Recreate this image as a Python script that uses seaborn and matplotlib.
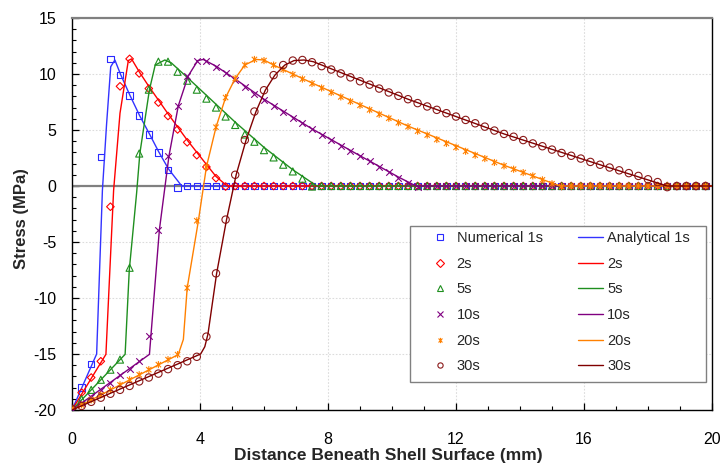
import matplotlib
matplotlib.use('Agg')
import matplotlib.pyplot as plt
import seaborn as sns
from matplotlib.path import Path
from matplotlib.lines import Line2D
from matplotlib.patches import Rectangle
from matplotlib.ticker import MultipleLocator

# ---------------- data ----------------
x_nodes = [0.0, 0.3, 0.6, 0.9, 1.2, 1.5, 1.8, 2.1, 2.4, 2.7,
           3.0, 3.3, 3.6, 3.9, 4.2, 4.5, 4.8, 5.1, 5.4, 5.7,
           6.0, 6.3, 6.6, 6.9, 7.2, 7.5, 7.8, 8.1, 8.4, 8.7,
           9.0, 9.3, 9.6, 9.9, 10.2, 10.5, 10.8, 11.1, 11.4, 11.7,
           12.0, 12.3, 12.6, 12.9, 13.2, 13.5, 13.8, 14.1, 14.4, 14.7,
           15.0, 15.3, 15.6, 15.9, 16.2, 16.5, 16.8, 17.1, 17.4, 17.7,
           18.0, 18.3, 18.6, 18.9, 19.2, 19.5, 19.8]

num_1s = [-19.9, -18.0, -15.9, 2.6, 11.35, 9.9, 8.1, 6.3, 4.6, 3.0,
          1.45, -0.15, 0, 0, 0, 0, 0, 0, 0, 0,
          0, 0, 0, 0, 0, 0, 0, 0, 0, 0,
          0, 0, 0, 0, 0, 0, 0, 0, 0, 0,
          0, 0, 0, 0, 0, 0, 0, 0, 0, 0,
          0, 0, 0, 0, 0, 0, 0, 0, 0, 0,
          0, 0, 0, 0, 0, 0, 0]
num_2s = [-19.9, -18.45, -17.1, -15.65, -1.85, 8.9, 11.35, 10.05, 8.7, 7.45,
          6.25, 5.05, 3.9, 2.75, 1.7, 0.7, -0.05, 0, 0, 0,
          0, 0, 0, 0, 0, 0, 0, 0, 0, 0,
          0, 0, 0, 0, 0, 0, 0, 0, 0, 0,
          0, 0, 0, 0, 0, 0, 0, 0, 0, 0,
          0, 0, 0, 0, 0, 0, 0, 0, 0, 0,
          0, 0, 0, 0, 0, 0, 0]
num_5s = [-19.9, -19.05, -18.2, -17.3, -16.4, -15.5, -7.3, 2.9, 8.6, 11.1,
          11.1, 10.2, 9.4, 8.6, 7.8, 7.0, 6.2, 5.45, 4.6, 3.95,
          3.2, 2.55, 1.9, 1.3, 0.65, -0.05, 0, 0, 0, 0,
          0, 0, 0, 0, 0, 0, 0, 0, 0, 0,
          0, 0, 0, 0, 0, 0, 0, 0, 0, 0,
          0, 0, 0, 0, 0, 0, 0, 0, 0, 0,
          0, 0, 0, 0, 0, 0, 0]
num_10s = [-19.9, -19.4, -18.8, -18.2, -17.55, -16.9, -16.3, -15.65, -13.4, -3.95,
           2.7, 7.15, 9.8, 11.2, 11.2, 10.65, 10.05, 9.5, 8.85, 8.2,
           7.7, 7.15, 6.6, 6.1, 5.6, 5.05, 4.55, 4.1, 3.6, 3.15,
           2.65, 2.2, 1.7, 1.25, 0.75, 0.3, -0.05, 0, 0, 0,
           0, 0, 0, 0, 0, 0, 0, 0, 0, 0,
           0, 0, 0, 0, 0, 0, 0, 0, 0, 0,
           0, 0, 0, 0, 0, 0, 0]
num_20s = [-19.9, -19.55, -19.1, -18.65, -18.2, -17.75, -17.3, -16.85, -16.4, -15.95,
           -15.5, -15.05, -9.1, -3.1, 1.7, 5.25, 7.9, 9.6, 10.8, 11.3,
           11.2, 10.8, 10.4, 9.95, 9.55, 9.15, 8.75, 8.35, 7.95, 7.55,
           7.2, 6.8, 6.4, 6.05, 5.65, 5.3, 4.9, 4.55, 4.15, 3.8,
           3.45, 3.1, 2.75, 2.45, 2.1, 1.8, 1.5, 1.2, 0.9, 0.55,
           0.2, -0.05, 0, 0, 0, 0, 0, 0, 0, 0,
           0, 0, 0, 0, 0, 0, 0]
num_30s = [-19.9, -19.64, -19.27, -18.9, -18.55, -18.2, -17.85, -17.45, -17.1, -16.75,
           -16.35, -16.0, -15.65, -15.25, -13.45, -7.8, -3.0, 1.0, 4.1, 6.65,
           8.55, 9.9, 10.8, 11.2, 11.25, 11.05, 10.7, 10.4, 10.05, 9.7,
           9.35, 9.05, 8.7, 8.35, 8.05, 7.75, 7.4, 7.1, 6.8, 6.5,
           6.2, 5.9, 5.6, 5.3, 4.95, 4.65, 4.4, 4.1, 3.8, 3.55,
           3.25, 2.95, 2.7, 2.45, 2.15, 1.9, 1.65, 1.4, 1.15, 0.9,
           0.6, 0.35, -0.1, 0, 0, 0, 0]

ana_1s_x = [0, 0.77, 0.95, 1.08, 1.21, 1.34, 1.52, 1.81, 2.11, 2.42, 2.71, 3.02, 3.43, 20]
ana_1s_y = [-20, -15.0, -0.4, 5.5, 10.65, 11.25, 9.95, 8.1, 6.3, 4.65, 3.05, 1.5, 0, 0]
ana_2s_x = [0, 1.06, 1.30, 1.50, 1.76, 1.86, 2.1, 2.4, 3.0, 3.6, 3.93, 4.5, 4.85, 20]
ana_2s_y = [-20, -15.03, -0.4, 6.5, 11.2, 11.35, 10.2, 8.9, 6.45, 4.1, 2.9, 0.85, 0, 0]
ana_5s_x = [0, 1.66, 1.79, 2.02, 2.12, 2.42, 2.6, 2.9, 3.1, 3.6, 4.2, 5.1, 6.0, 6.9, 7.65, 20]
ana_5s_y = [-20, -15.03, -7.5, -0.6, 2.9, 8.6, 10.8, 11.25, 11.0, 9.7, 8.1, 5.7, 3.45, 1.45, 0, 0]
ana_10s_x = [0, 2.42, 2.73, 3.03, 3.32, 3.63, 3.93, 4.1, 4.5, 5.1, 6.0, 7.5, 9.0, 10.2, 10.75, 20]
ana_10s_y = [-20, -15.03, -3.93, 2.68, 7.14, 9.82, 11.2, 11.3, 10.7, 9.55, 7.75, 5.1, 2.7, 0.8, 0, 0]
ana_20s_x = [0, 3.32, 3.48, 3.6, 3.95, 4.2, 4.5, 4.8, 5.1, 5.4, 5.75, 6.0, 6.3, 7.5, 10.5, 13.5, 15.25, 20]
ana_20s_y = [-20, -15.05, -13.7, -9.1, -3.1, 1.7, 5.25, 7.9, 9.6, 10.8, 11.3, 11.25, 10.8, 9.2, 5.35, 1.85, 0, 0]
ana_30s_x = [0, 4.02, 4.15, 4.25, 4.52, 4.83, 5.13, 5.44, 5.75, 6.04, 6.34, 6.65, 6.94, 7.25, 7.54,
             10.5, 13.5, 16.5, 18.6, 20]
ana_30s_y = [-20, -15.0, -14.35, -13.2, -7.8, -3.0, 1.0, 4.1, 6.65, 8.55, 9.9, 10.8, 11.2, 11.25, 11.1,
             7.75, 4.65, 1.9, 0, 0]

times = ['1s', '2s', '5s', '10s', '20s', '30s']
num_labels = ['Numerical 1s', '2s', '5s', '10s', '20s', '30s']
ana_labels = ['Analytical 1s', '2s', '5s', '10s', '20s', '30s']
x_ticks = [0, 4, 8, 12, 16, 20]
y_ticks = [-20, -15, -10, -5, 0, 5, 10, 15]

# ---------------- styling ----------------
sns.set_theme(style='white')
plt.rcParams['font.family'] = ['Liberation Sans', 'DejaVu Sans']
plt.rcParams['axes.unicode_minus'] = False

colors_num = ['#2a2aff', '#ff0000', '#1f8f1f', '#800080', '#ff8000', '#8b1a1a']
colors_ana = ['#3333ff', '#ff0000', '#1f8f1f', '#800080', '#ff8000', '#800000']

star = Path([(0, -1), (0, 1), (-0.75, -0.75), (0.75, 0.75), (-0.75, 0.75), (0.75, -0.75)],
            [Path.MOVETO, Path.LINETO, Path.MOVETO, Path.LINETO, Path.MOVETO, Path.LINETO])
markers = ['s', 'D', '^', 'x', star, 'o']
sizes = [22, 15, 26, 22, 26, 28]
filled = [True, True, True, False, True, True]

nums = [num_1s, num_2s, num_5s, num_10s, num_20s, num_30s]
anas = [(ana_1s_x, ana_1s_y), (ana_2s_x, ana_2s_y), (ana_5s_x, ana_5s_y),
        (ana_10s_x, ana_10s_y), (ana_20s_x, ana_20s_y), (ana_30s_x, ana_30s_y)]

fig = plt.figure(figsize=(7.21, 4.73), dpi=100)
ax = fig.add_axes([72 / 721, 1 - 410 / 473, 640 / 721, 392 / 473])

ax.axhline(0, color='#808080', lw=1.6, zorder=1.5)

z = 2.0
for i in range(6):
    c = colors_num[i]
    if filled[i]:
        sns.scatterplot(x=x_nodes, y=nums[i], marker=markers[i], s=sizes[i], color=c,
                        edgecolor=c, linewidth=0.8, ax=ax, legend=False, zorder=z)
        coll = ax.collections[-1]
        coll.set_facecolor('none')
        coll.set_edgecolor(c)
    else:
        sns.scatterplot(x=x_nodes, y=nums[i], marker=markers[i], s=sizes[i], color=c,
                        linewidth=0.8, ax=ax, legend=False, zorder=z)
    z += 0.1
    ax_x, ax_y = anas[i]
    sns.lineplot(x=ax_x, y=ax_y, color=colors_ana[i], lw=1.0, sort=False, estimator=None,
                 ax=ax, legend=False, zorder=z)
    z += 0.1

ax.set_xlim(0, 20)
ax.set_ylim(-20, 15)
ax.set_xticks(x_ticks)
ax.set_yticks(y_ticks)
ax.set_xticklabels([str(t) for t in x_ticks])
ax.set_yticklabels([str(t) for t in y_ticks])
ax.xaxis.set_minor_locator(MultipleLocator(1))
ax.yaxis.set_minor_locator(MultipleLocator(1))
ax.tick_params(axis='x', which='major', direction='in', length=5, width=0.9, colors='black',
               labelsize=11.5, pad=16, bottom=True)
ax.tick_params(axis='y', which='major', direction='in', length=5, width=0.9, colors='black',
               labelsize=11.5, pad=11, left=True)
ax.tick_params(axis='both', which='minor', direction='in', length=3, width=0.8, colors='black',
               bottom=True, left=True)
ax.grid(True, which='major', color='#dcdcdc', linestyle=(0, (1.5, 1.5)), lw=0.8)
ax.set_axisbelow(True)

for side in ['left', 'bottom', 'right']:
    ax.spines[side].set_color('black')
    ax.spines[side].set_linewidth(1.0)
ax.spines['top'].set_color('#808080')
ax.spines['top'].set_linewidth(1.6)

ax.set_xlabel('')
ax.set_ylabel('')
fig.text(388 / 721, 1 - 455 / 473, 'Distance Beneath Shell Surface (mm)', ha='center', va='center',
         fontsize=12.5, fontweight='bold')
fig.text(22 / 721, 1 - 219 / 473, 'Stress (MPa)', ha='center', va='center', rotation=90,
         fontsize=12, fontweight='bold')

# legend
frame = Rectangle((410 / 721, 1 - 382 / 473), (706 - 410) / 721, (382 - 226) / 473,
                  transform=fig.transFigure, facecolor='white', edgecolor='#808080', lw=1.0, zorder=10)
fig.add_artist(frame)
h_num = [Line2D([], [], ls='none', marker=markers[i], mfc='none', mec=colors_num[i], color=colors_num[i],
                ms=3.8, mew=0.8) for i in range(6)]
h_ana = [Line2D([], [], color=colors_ana[i], lw=1.0) for i in range(6)]
leg = fig.legend(handles=h_num + h_ana, labels=num_labels + ana_labels, ncol=2,
                 loc='upper left', bbox_to_anchor=(427 / 721, 1 - 231 / 473),
                 bbox_transform=fig.transFigure, frameon=False, borderpad=0, borderaxespad=0,
                 handlelength=1.73, handletextpad=0.3, columnspacing=2.4, labelspacing=0.8,
                 fontsize=10.5)
leg.set_zorder(11)

fig.savefig('out.png', dpi=100)
